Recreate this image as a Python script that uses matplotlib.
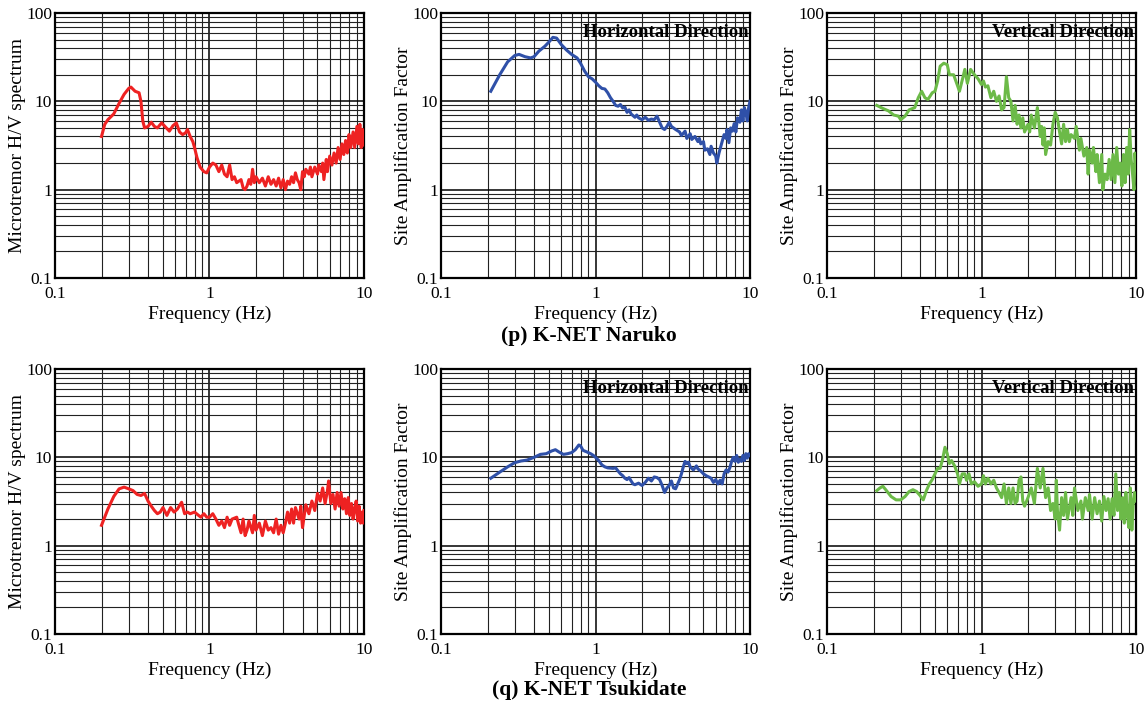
import numpy as np
import matplotlib
matplotlib.use("Agg")
import matplotlib.pyplot as plt
from matplotlib.ticker import FixedLocator, FuncFormatter

plt.rcParams['font.family'] = ['Liberation Serif', 'DejaVu Serif']

# (p) K-NET Naruko
p_hv_f = [0.2, 0.21, 0.22, 0.24, 0.26, 0.28, 0.30, 0.31, 0.33, 0.35, 0.36, 0.37, 0.38, 0.40, 0.42, 0.44,
          0.46, 0.49, 0.52, 0.55, 0.58, 0.61, 0.64, 0.67, 0.70, 0.72, 0.75, 0.78, 0.80, 0.83, 0.87, 0.92,
          0.96, 1.0, 1.05, 1.1, 1.15, 1.2, 1.25, 1.3, 1.35, 1.4, 1.45, 1.5, 1.6, 1.65, 1.7, 1.75, 1.8,
          1.85, 1.9, 1.95, 2.0, 2.1, 2.2, 2.3, 2.4, 2.5, 2.6, 2.7, 2.8, 2.9, 3.0, 3.1, 3.2, 3.3, 3.4, 3.5,
          3.6, 3.7, 3.8, 3.9, 4.0, 4.1, 4.2, 4.4, 4.5, 4.6, 4.8, 5.0, 5.1, 5.3, 5.4, 5.5, 5.7, 5.8, 6.0,
          6.2, 6.4, 6.6, 6.8, 7.0, 7.2, 7.4, 7.6, 7.8, 8.0, 8.2, 8.5, 8.7, 9.0, 9.2, 9.4, 9.6, 9.8, 10]
p_hv_v = [4.0, 5.5, 6.2, 7.2, 9.5, 12, 14, 14.5, 13, 12.5, 10, 6, 5.0, 5.2, 5.8, 5.2,
          5.0, 5.7, 5.1, 4.6, 5.3, 5.7, 4.5, 4.2, 4.4, 4.8, 4.0, 3.5, 3.0, 2.3, 1.8, 1.6,
          1.55, 1.8, 2.0, 1.9, 1.6, 1.9, 1.5, 1.4, 1.9, 1.3, 1.4, 1.2, 1.3, 1.05, 1.0, 1.1, 1.3,
          1.15, 1.7, 1.2, 1.4, 1.2, 1.35, 1.1, 1.4, 1.15, 1.3, 1.1, 1.35, 1.05, 1.3, 1.0, 1.25, 1.15, 1.4, 1.2,
          1.55, 1.3, 1.2, 1.0, 1.6, 1.4, 1.7, 1.5, 1.8, 1.4, 1.8, 1.5, 1.9, 1.6, 2.0, 1.3, 2.2, 1.6, 2.4,
          1.9, 2.6, 2.0, 3.0, 2.2, 3.3, 2.5, 3.6, 2.6, 4.2, 3.0, 4.5, 3.0, 5.2, 3.3, 5.5, 3.0, 4.8, 3.2]

p_h_f = [0.21, 0.24, 0.27, 0.30, 0.32, 0.35, 0.38, 0.40, 0.43, 0.47, 0.50, 0.53, 0.56, 0.60, 0.65, 0.70,
         0.76, 0.80, 0.85, 0.90, 0.95, 1.0, 1.05, 1.1, 1.15, 1.2, 1.25, 1.3, 1.35, 1.4, 1.45, 1.5, 1.55,
         1.6, 1.65, 1.7, 1.8, 1.85, 1.9, 2.0, 2.1, 2.2, 2.3, 2.4, 2.5, 2.6, 2.7, 2.8, 2.9, 3.0, 3.1, 3.3,
         3.5, 3.6, 3.8, 3.9, 4.1, 4.2, 4.4, 4.6, 4.7, 4.8, 5.0, 5.1, 5.3, 5.5, 5.6, 5.8, 6.0, 6.1, 6.3,
         6.6, 6.8, 7.0, 7.1, 7.3, 7.5, 7.7, 7.9, 8.1, 8.3, 8.6, 8.8, 9.0, 9.2, 9.4, 9.6, 9.8, 10]
p_h_v = [13, 20, 28, 33, 34, 32, 31, 32, 37, 42, 47, 53, 52, 44, 38, 34,
         31, 27, 22, 19, 18, 16.5, 15, 14, 13.8, 12.5, 11, 10, 9, 8.8, 9.2, 8.4, 8.6,
         7.5, 8.0, 7.2, 6.6, 7.0, 6.5, 6.2, 6.6, 6.1, 6.3, 6.2, 6.8, 5.8, 5.0, 4.8, 5.2, 5.8, 5.2, 4.8,
         4.5, 4.1, 4.6, 3.8, 4.3, 3.7, 4.0, 3.5, 3.8, 3.3, 3.5, 2.8, 2.9, 2.5, 3.1, 2.6, 2.4, 2.0, 2.6,
         3.5, 4.2, 3.8, 4.8, 3.4, 5.0, 4.6, 5.6, 4.5, 6.5, 5.8, 8.0, 6.0, 8.5, 7.5, 6.0, 8.5, 10]

p_v_f = [0.21, 0.23, 0.25, 0.27, 0.29, 0.30, 0.32, 0.34, 0.37, 0.39, 0.41, 0.43, 0.45, 0.48, 0.50, 0.52,
         0.54, 0.57, 0.60, 0.62, 0.66, 0.70, 0.72, 0.76, 0.78, 0.81, 0.85, 0.90, 0.95, 1.0, 1.03, 1.06,
         1.1, 1.15, 1.2, 1.25, 1.3, 1.35, 1.4, 1.45, 1.5, 1.55, 1.6, 1.65, 1.7, 1.75, 1.8, 1.85, 1.9,
         2.0, 2.05, 2.1, 2.2, 2.3, 2.4, 2.45, 2.5, 2.55, 2.6, 2.7, 2.8, 2.9, 3.0, 3.1, 3.2, 3.3, 3.4,
         3.5, 3.6, 3.7, 3.8, 4.0, 4.1, 4.3, 4.4, 4.6, 4.8, 4.9, 5.0, 5.2, 5.3, 5.5, 5.6, 5.8, 6.0, 6.1,
         6.3, 6.5, 6.7, 6.9, 7.1, 7.3, 7.5, 7.7, 7.9, 8.1, 8.3, 8.5, 8.7, 8.9, 9.1, 9.3, 9.5, 9.7, 9.85, 10]
p_v_v = [9, 8.3, 7.8, 7.0, 6.8, 6.2, 6.8, 8.0, 8.5, 11, 13, 11, 10.5, 12.5, 13, 17,
         25, 27, 26, 20, 20, 15, 13, 19, 23, 16, 23, 20, 18, 15.5, 17, 14.5,
         15, 11, 13, 10, 11.5, 8, 8.5, 19, 11, 10, 6, 9, 5.5, 7, 5, 6.5, 4.5,
         5.5, 4.5, 7, 5, 8.5, 4.0, 5.2, 3.2, 5, 2.5, 3.5, 3.2, 5.5, 7.5, 6.5, 4.5, 3.3, 5.5,
         3.5, 4.8, 3.5, 4.2, 3.8, 5.2, 2.8, 3.8, 2.4, 3.0, 1.5, 2.8, 2.0, 3.0, 1.6, 2.5, 1.2, 2.5, 1.0,
         1.5, 1.3, 2.2, 1.3, 2.5, 1.2, 3.0, 1.5, 2.0, 1.1, 2.5, 1.2, 3.0, 1.5, 4.8, 2.2, 1.5, 1.0, 2.6, 1.8]

# (q) K-NET Tsukidate
q_hv_f = [0.2, 0.22, 0.24, 0.26, 0.28, 0.30, 0.32, 0.34, 0.36, 0.38, 0.40, 0.42, 0.44, 0.46, 0.48, 0.50,
          0.53, 0.56, 0.59, 0.62, 0.66, 0.69, 0.72, 0.75, 0.80, 0.85, 0.88, 0.92, 0.96, 1.0, 1.05, 1.1,
          1.15, 1.2, 1.25, 1.3, 1.35, 1.4, 1.5, 1.55, 1.6, 1.65, 1.7, 1.75, 1.8, 1.9, 1.95, 2.0, 2.1,
          2.2, 2.3, 2.4, 2.5, 2.6, 2.7, 2.8, 2.9, 3.0, 3.1, 3.2, 3.3, 3.4, 3.5, 3.6, 3.8, 3.9, 4.0, 4.2,
          4.4, 4.6, 4.8, 5.0, 5.2, 5.4, 5.6, 5.8, 5.9, 6.1, 6.3, 6.5, 6.7, 6.9, 7.1, 7.3, 7.5, 7.7, 7.9,
          8.1, 8.3, 8.5, 8.7, 8.9, 9.1, 9.3, 9.5, 9.7, 9.9, 10]
q_hv_v = [1.7, 2.6, 3.6, 4.4, 4.6, 4.4, 4.2, 3.8, 3.7, 3.9, 3.2, 2.8, 2.5, 2.3, 2.4, 2.7,
          2.2, 2.7, 2.4, 2.6, 3.1, 2.3, 2.4, 2.3, 2.4, 2.2, 2.1, 2.3, 2.1, 2.1, 2.3, 2.0,
          1.7, 1.9, 1.6, 2.1, 1.7, 2.0, 2.1, 1.7, 1.4, 2.0, 1.3, 1.5, 1.9, 1.4, 2.2, 1.5, 1.8,
          1.3, 1.9, 1.5, 1.6, 1.4, 2.0, 1.35, 1.7, 1.4, 1.8, 2.4, 1.8, 2.6, 1.8, 2.7, 2.0, 2.8, 1.6, 2.9,
          2.3, 3.2, 2.5, 3.9, 3.2, 4.5, 3.0, 4.2, 5.4, 3.0, 3.8, 2.6, 4.0, 2.8, 4.0, 2.6, 3.4, 2.3, 3.5,
          2.2, 3.0, 2.0, 2.6, 3.2, 1.9, 2.8, 1.8, 2.4, 1.8, 2.5]

q_h_f = [0.21, 0.24, 0.27, 0.30, 0.33, 0.36, 0.40, 0.44, 0.48, 0.52, 0.55, 0.58, 0.62, 0.66, 0.70, 0.74,
         0.78, 0.80, 0.83, 0.88, 0.93, 0.97, 1.0, 1.05, 1.1, 1.15, 1.2, 1.3, 1.35, 1.4, 1.45, 1.5, 1.55,
         1.6, 1.65, 1.7, 1.75, 1.8, 1.9, 2.0, 2.1, 2.2, 2.3, 2.4, 2.5, 2.6, 2.7, 2.8, 2.9, 3.0, 3.1, 3.2,
         3.3, 3.5, 3.6, 3.7, 3.8, 3.9, 4.0, 4.1, 4.3, 4.5, 4.6, 4.8, 5.0, 5.2, 5.4, 5.6, 5.8, 6.0, 6.2,
         6.4, 6.6, 6.8, 7.0, 7.2, 7.4, 7.6, 7.8, 8.0, 8.2, 8.4, 8.6, 8.8, 9.0, 9.2, 9.4, 9.6, 9.8, 10]
q_h_v = [5.8, 6.8, 7.8, 8.7, 9.1, 9.3, 10, 10.8, 11, 11.8, 12.2, 11.5, 10.8, 11, 11.3, 12.2,
         13.8, 13.5, 12, 11.5, 11, 10.5, 10, 9.2, 8.2, 7.8, 7.6, 7.5, 7.6, 7.0, 6.5, 6.2, 5.8,
         5.6, 5.9, 5.4, 5.0, 4.9, 5.1, 4.8, 5.2, 5.8, 5.4, 6.0, 5.9, 5.6, 4.8, 4.0, 4.5, 4.8, 5.4, 4.5,
         4.4, 5.6, 6.5, 7.8, 9.0, 8.5, 8.8, 7.8, 7.2, 8.0, 7.4, 7.0, 6.5, 6.2, 6.0, 5.8, 5.2, 5.6, 5.0,
         5.5, 5.0, 6.5, 7.2, 6.8, 7.6, 9.0, 10, 9.0, 10.5, 8.8, 9.5, 9.0, 10.5, 9.2, 11, 9.8, 11, 10.5]

q_v_f = [0.21, 0.22, 0.23, 0.24, 0.26, 0.28, 0.30, 0.32, 0.34, 0.36, 0.38, 0.40, 0.42, 0.44, 0.46, 0.48,
         0.50, 0.52, 0.54, 0.56, 0.58, 0.60, 0.62, 0.64, 0.67, 0.70, 0.72, 0.75, 0.78, 0.80, 0.83, 0.86,
         0.90, 0.95, 1.0, 1.03, 1.06, 1.1, 1.15, 1.2, 1.25, 1.3, 1.35, 1.4, 1.45, 1.5, 1.55, 1.6, 1.65,
         1.7, 1.75, 1.8, 1.85, 1.9, 2.0, 2.1, 2.2, 2.3, 2.4, 2.5, 2.6, 2.7, 2.8, 2.9, 3.0, 3.05, 3.1,
         3.2, 3.3, 3.4, 3.5, 3.6, 3.8, 3.9, 4.0, 4.2, 4.4, 4.5, 4.7, 4.9, 5.0, 5.2, 5.4, 5.6, 5.8, 6.0,
         6.2, 6.4, 6.6, 6.8, 7.0, 7.2, 7.4, 7.6, 7.8, 8.0, 8.2, 8.4, 8.6, 8.8, 9.0, 9.2, 9.4, 9.6, 9.8, 10]
q_v_v = [4.2, 4.5, 4.7, 4.3, 3.6, 3.3, 3.3, 3.6, 4.1, 4.3, 4.1, 3.7, 3.3, 4.2, 5.0, 5.6,
         6.5, 7.5, 7.5, 9.5, 13.0, 11.0, 8.5, 9.2, 8.0, 6.5, 5.0, 6.5, 6.5, 5.5, 6.5, 5.0,
         5.3, 4.7, 5.0, 6.2, 5.0, 5.8, 5.0, 5.5, 4.5, 4.0, 3.5, 5.0, 3.0, 4.5, 3.0, 4.5, 3.0,
         3.2, 5.5, 6.0, 3.2, 2.8, 3.5, 4.5, 3.0, 7.5, 4.5, 7.5, 3.5, 4.5, 2.5, 3.0, 2.0, 5.5, 2.5,
         1.5, 3.5, 2.2, 4.0, 2.0, 3.5, 2.2, 4.5, 2.5, 3.2, 2.0, 3.5, 2.5, 3.8, 2.0, 3.5, 2.3, 3.2, 1.9,
         3.6, 2.5, 3.4, 2.0, 3.4, 2.2, 6.5, 2.5, 4.0, 2.0, 3.5, 1.8, 4.0, 2.2, 1.6, 4.5, 1.5, 3.0, 4.0, 3.2]

red = '#ee2222'
blue = '#2f50a8'
green = '#6cba48'

fig = plt.figure(figsize=(11.46, 7.04), dpi=100)
W, H = 1146, 704
lefts = [55, 441, 827]
width = 309
rows = [(13, 278), (369, 634)]

panels = [
    [(p_hv_f, p_hv_v, red, 'Microtremor H/V spectrum', None),
     (p_h_f, p_h_v, blue, 'Site Amplification Factor', 'Horizontal Direction'),
     (p_v_f, p_v_v, green, 'Site Amplification Factor', 'Vertical Direction')],
    [(q_hv_f, q_hv_v, red, 'Microtremor H/V spectrum', None),
     (q_h_f, q_h_v, blue, 'Site Amplification Factor', 'Horizontal Direction'),
     (q_v_f, q_v_v, green, 'Site Amplification Factor', 'Vertical Direction')],
]

fmt = FuncFormatter(lambda v, pos: '%g' % v)
xminor = [k * 10.0 ** e for e in (-1, 0) for k in range(2, 10)]
yminor = [k * 10.0 ** e for e in (-1, 0, 1) for k in range(2, 10)]

for (top, bot), row in zip(rows, panels):
    for left, (f, v, col, ylab, note) in zip(lefts, row):
        ax = fig.add_axes([left / W, 1 - bot / H, width / W, (bot - top) / H])
        ax.set_xscale('log')
        ax.set_yscale('log')
        ax.set_xlim(0.1, 10)
        ax.set_ylim(0.1, 100)
        ax.xaxis.set_major_locator(FixedLocator([0.1, 1, 10]))
        ax.yaxis.set_major_locator(FixedLocator([0.1, 1, 10, 100]))
        ax.xaxis.set_minor_locator(FixedLocator(xminor))
        ax.yaxis.set_minor_locator(FixedLocator(yminor))
        ax.xaxis.set_major_formatter(fmt)
        ax.yaxis.set_major_formatter(fmt)
        ax.xaxis.set_minor_formatter(FuncFormatter(lambda v, pos: ''))
        ax.yaxis.set_minor_formatter(FuncFormatter(lambda v, pos: ''))
        ax.tick_params(which='both', length=0, labelsize=12.5)
        ax.tick_params(axis='x', pad=5.5)
        ax.tick_params(axis='y', pad=2)
        ax.grid(True, which='major', color='black', lw=1.1)
        ax.grid(True, which='minor', color='#222222', lw=0.8)
        for s in ax.spines.values():
            s.set_linewidth(1.6)
        ax.plot(f, v, color=col, lw=2.2, zorder=3)
        ax.set_xlabel('Frequency (Hz)', fontsize=14, labelpad=3)
        ax.set_ylabel(ylab, fontsize=14)
        ax.yaxis.set_label_coords(-0.095, 0.5)
        if note:
            ax.text(0.995, 0.96, note, transform=ax.transAxes, ha='right', va='top',
                    fontsize=13.5, fontweight='bold')

fig.text(589 / W, 1 - 336 / H, '(p) K-NET Naruko', ha='center', va='center',
         fontsize=15.5, fontweight='bold')
fig.text(589 / W, 1 - 690 / H, '(q) K-NET Tsukidate', ha='center', va='center',
         fontsize=15.5, fontweight='bold')

fig.savefig('out.png', dpi=100)
